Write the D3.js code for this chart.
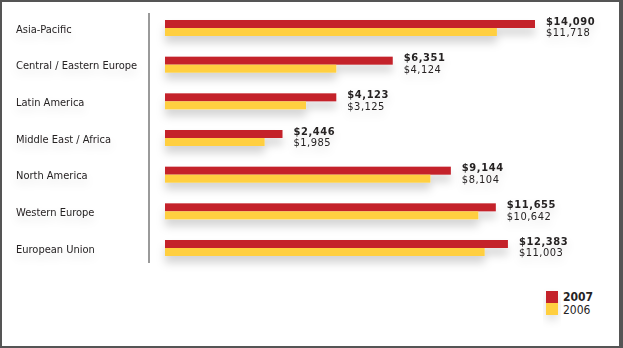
<!DOCTYPE html>
<html>
<head>
<meta charset="utf-8">
<script src="https://cdn.jsdelivr.net/npm/d3@7"></script>
<style>
  html, body { margin: 0; padding: 0; background: #fff; }
  svg { display: block; }
  text { font-family: "DejaVu Sans Condensed", "Liberation Sans Narrow", sans-serif; fill: #262324; }
</style>
</head>
<body>
<svg id="chart" width="623" height="348"></svg>
<script>
const categories = ["Asia-Pacific", "Central / Eastern Europe", "Latin America", "Middle East / Africa", "North America", "Western Europe", "European Union"];
const values2007 = [14090, 6351, 4123, 2446, 9144, 11655, 12383];
const values2006 = [11718, 4124, 3125, 1985, 8104, 10642, 11003];
const seriesNames = ["2007", "2006"];

const W = 623, H = 348;
const svg = d3.select("#chart");
const colors = d3.scaleOrdinal().domain(seriesNames).range(["#c4232c", "#ffcf3f"]);

// frame
svg.append("rect").attr("width", W).attr("height", H).attr("fill", "#555");
svg.append("rect").attr("x", 2).attr("y", 2).attr("width", 617).attr("height", 344).attr("fill", "#fff");

const defs = svg.append("defs");
const f = defs.append("filter").attr("id", "shadow").attr("x", "-10%").attr("y", "-60%").attr("width", "130%").attr("height", "300%");
f.append("feDropShadow").attr("dx", 0).attr("dy", 7).attr("stdDeviation", 4.5)
  .attr("flood-color", "#000").attr("flood-opacity", 0.17);
const ft = defs.append("filter").attr("id", "tshadow").attr("x", "-20%").attr("y", "-60%").attr("width", "140%").attr("height", "260%");
ft.append("feDropShadow").attr("dx", 0).attr("dy", 5).attr("stdDeviation", 4)
  .attr("flood-color", "#000").attr("flood-opacity", 0.12);

const y = d3.scaleBand().domain(categories).range([20, 256]).paddingInner(1 - 16 / 36.67).paddingOuter(0);
const ySub = d3.scaleBand().domain(seriesNames).range([0, y.bandwidth()]);
const x = d3.scaleSqrt().domain([297, 14090]).range([165, 535]);

const data = categories.map((c, i) => ({ cat: c, v: { "2007": values2007[i], "2006": values2006[i] } }));
const fmt = d3.format(",");

// axis line
svg.append("line").attr("x1", 149).attr("x2", 149).attr("y1", 13).attr("y2", 263)
  .attr("stroke", "#9a9a9a").attr("stroke-width", 2);

// category labels
svg.append("g").attr("filter", "url(#tshadow)").selectAll("text").data(data).join("text")
  .attr("x", 16).attr("y", d => y(d.cat) + 12.5)
  .attr("font-size", 11)
  .text(d => d.cat);

// bars
const groups = svg.append("g").selectAll("g").data(data).join("g")
  .attr("transform", d => `translate(0,${y(d.cat)})`);
groups.append("g").attr("filter", "url(#shadow)")
  .selectAll("rect").data(d => seriesNames.map(s => ({ s, v: d.v[s] }))).join("rect")
  .attr("x", x.range()[0])
  .attr("y", d => ySub(d.s))
  .attr("width", d => x(d.v) - x.range()[0])
  .attr("height", ySub.bandwidth())
  .attr("fill", d => colors(d.s));

// value labels
const vl = groups.append("g").attr("filter", "url(#tshadow)");
vl.append("text")
  .attr("x", d => x(d.v["2007"]) + 11).attr("y", 4.6)
  .attr("font-size", 11).attr("font-weight", "bold").attr("letter-spacing", 0.6)
  .text(d => "$" + fmt(d.v["2007"]));
vl.append("text")
  .attr("x", d => x(d.v["2007"]) + 11).attr("y", 16.2)
  .attr("font-size", 11).attr("letter-spacing", 0.5)
  .text(d => "$" + fmt(d.v["2006"]));

// legend
const lg = svg.append("g").attr("transform", "translate(546,291)");
lg.append("g").attr("filter", "url(#tshadow)").selectAll("rect").data(seriesNames).join("rect")
  .attr("x", 0).attr("y", (d, i) => i * 12).attr("width", 12).attr("height", 12)
  .attr("fill", d => colors(d));
lg.selectAll("text").data(seriesNames).join("text")
  .attr("x", 17).attr("y", (d, i) => 10 + i * 13)
  .attr("font-size", 12).attr("font-weight", (d, i) => i === 0 ? "bold" : "normal")
  .text(d => d);
</script>
</body>
</html>
